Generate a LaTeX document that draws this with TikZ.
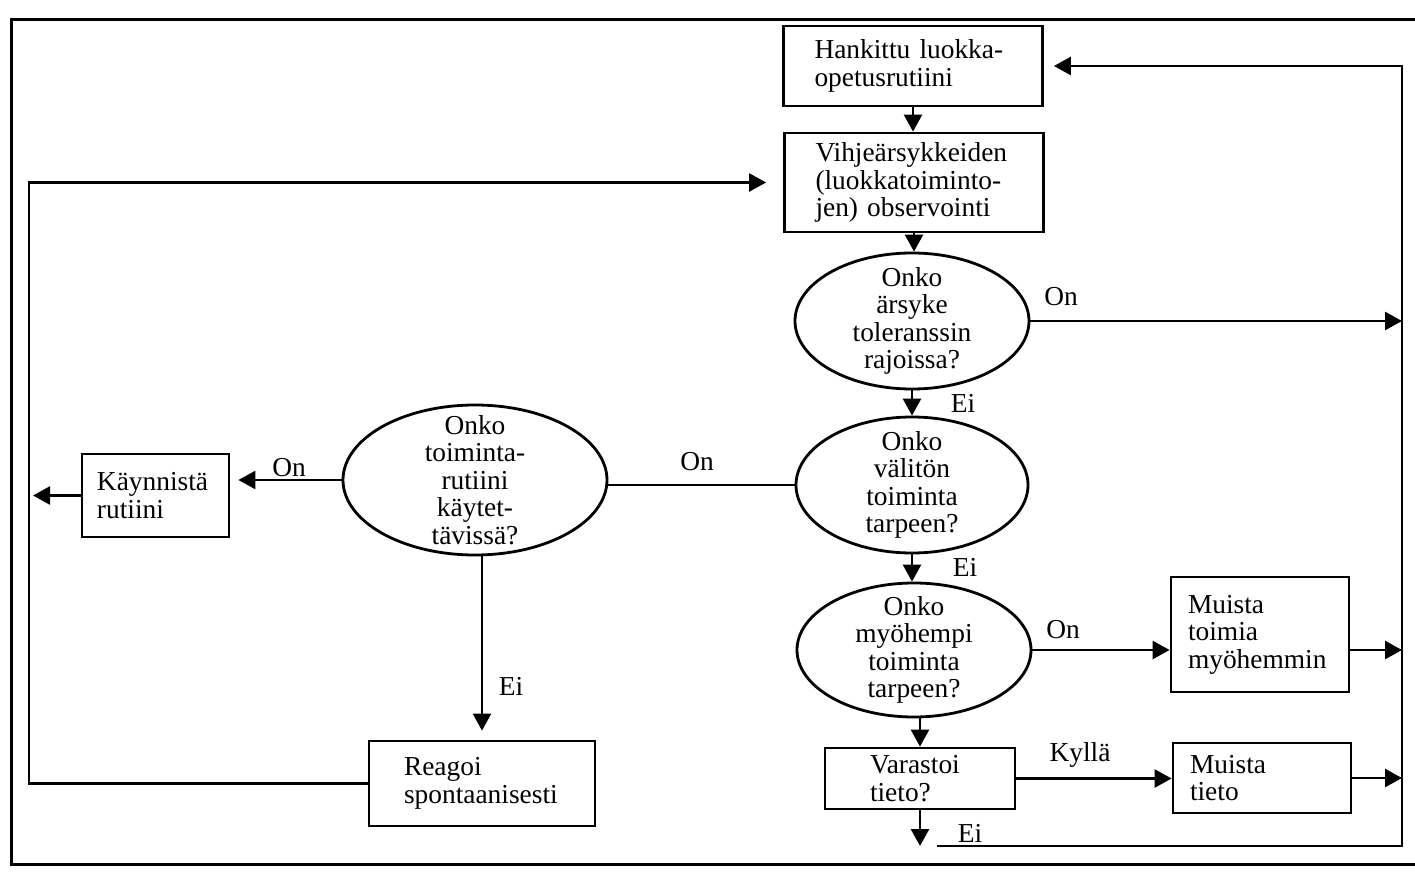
\documentclass[tikz,border=0pt]{standalone}
\usepackage{fontspec}
\setmainfont{Liberation Serif}
\usetikzlibrary{shapes.geometric,arrows.meta,calc}
\hyphenpenalty=10000
\exhyphenpenalty=10000
\tikzset{
  basefont/.style={font=\fontsize{13.7pt}{13.75pt}\selectfont},
  box/.style={basefont, draw, line width=1.4pt, rectangle, align=left, inner ysep=0pt},
  ell/.style={draw, ellipse, line width=1.4pt, inner sep=0pt},
  etext/.style={basefont, align=center, inner sep=0pt},
  lbl/.style={basefont, inner sep=0pt},
  conn/.style={line width=1.3pt},
  arr/.style={line width=1.3pt, -{Triangle[length=8.5pt,width=9pt]}},
  frame/.style={line width=1.5pt}
}
\begin{document}
\begin{tikzpicture}[x=0.5pt,y=-0.5pt]
\useasboundingbox (0,0) rectangle (1415,872);
\clip (0,0) rectangle (1415,872);
\fill[white] (0,0) rectangle (1415,872);
% outer frame
\draw[frame] (1420,20) -- (11,20) -- (11,864) -- (1420,864);

% central column
\node[box, text width=98.5pt, inner xsep=15.5pt, minimum height=40pt] (hank) at (913,66)
  {Hankittu luokka-\\opetusrutiini};
\node[box, text width=98.5pt, inner xsep=15.5pt, minimum height=49.5pt] (vih) at (914,182.5)
  {Vihjeärsykkeiden\\(luokkatoiminto-\\jen) observointi};
\node[ell, minimum width=117pt, minimum height=68pt] (e1) at (912,321) {};
\node[etext] (e1t) at (e1) {Onko\\ärsyke\\toleranssin\\rajoissa?};
\node[ell, minimum width=116pt, minimum height=68pt] (e2) at (912,485) {};
\node[etext] (e2t) at (e2) {Onko\\välitön\\toiminta\\tarpeen?};
\node[ell, minimum width=117pt, minimum height=67pt] (e4) at (914,650) {};
\node[etext] (e4t) at (e4) {Onko\\myöhempi\\toiminta\\tarpeen?};
\node[box, text width=50pt, inner xsep=22.5pt, minimum height=30.5pt] (vara) at (920,778.5)
  {Varastoi\\tieto?};

% right boxes
\node[box, text width=72pt, inner xsep=8.5pt, minimum height=57.5pt] (mtoim) at (1260,634.5)
  {Muista\\toimia\\myöhemmin};
\node[box, text width=72pt, inner xsep=8.5pt, minimum height=35pt] (mtiet) at (1262,778)
  {Muista\\tieto};

% left part
\node[ell, minimum width=132pt, minimum height=75pt] (e3) at (475,480) {};
\node[etext] (e3t) at (e3) {Onko\\toiminta-\\rutiini\\käytet-\\tävissä?};
\node[box, text width=58.5pt, inner xsep=7.5pt, minimum height=41.5pt] (kayn) at (155.5,495.5)
  {Käynnistä\\rutiini};
\node[box, text width=78pt, inner xsep=17.5pt, minimum height=42.5pt] (reag) at (482,783.5)
  {Reagoi\\spontaanisesti};

% helper coordinates
\coordinate (bus) at (1402,0);
\coordinate (loop) at (29,0);
\coordinate (fbstart) at (937,846);

% central arrows
\draw[arr] (hank.south) -- (hank.south |- vih.north);
\draw[arr] (vih.south) -- (vih.south |- e1.north);
\draw[arr] (e1.south) -- (e1.south |- e2.north);
\draw[arr] (e2.south) -- (e2.south |- e4.north);
\draw[arr] (vara.north |- e4.south) -- (vara.north);

% right side arrows
\draw[arr] (e1.east) -- (bus |- e1.east);
\draw[arr] (e4.east) -- (e4.east -| mtoim.west);
\draw[arr] (mtoim.east |- e4.east) -- (bus |- e4.east);
\draw[arr] (vara.east) -- (vara.east -| mtiet.west);
\draw[arr] (mtiet.east) -- (bus |- mtiet.east);
\draw[arr] (vara.south) -- (vara.south |- fbstart);
\draw[arr, shorten >=5pt] (fbstart) -- (bus |- fbstart) -- (bus |- hank.east) -- (hank.east);

% left side connectors
\draw[conn] (e2.west) -- (e2.west -| e3.east);
\draw[arr, shorten >=4pt] (e3.west) -- (e3.west -| kayn.east);
\draw[arr, shorten >=2pt] (kayn.west) -- (loop |- kayn.west);
\draw[arr, shorten >=4.5pt] (reag.north |- e3.south) -- (reag.north);
\draw[arr, shorten >=8.5pt] (reag.west) -- (loop |- reag.west) -- (loop |- vih.west) -- (vih.west);

% labels
\node[lbl] (lOn1) at (1061,297) {On};
\node[lbl] (lEi1) at (963,403) {Ei};
\node[lbl] (lEi2) at (965,567) {Ei};
\node[lbl] (lOn2) at (1063,630) {On};
\node[lbl] (lKy) at (1080,755) {Kyllä};
\node[lbl] (lEi3) at (970,833) {Ei};
\node[lbl] (lOn3) at (697,462) {On};
\node[lbl] (lOn4) at (289,468) {On};
\node[lbl] (lEi4) at (511,686) {Ei};
\end{tikzpicture}
\end{document}
